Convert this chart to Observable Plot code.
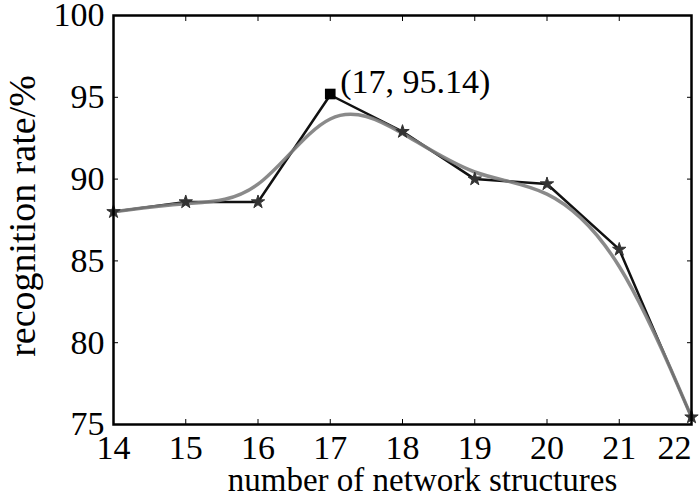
<!DOCTYPE html>
<html><head><meta charset="utf-8">
<script src="https://cdn.jsdelivr.net/npm/d3@7"></script>
<script src="https://cdn.jsdelivr.net/npm/@observablehq/plot@0.6"></script>
<style>html,body{margin:0;padding:0;background:#fff} svg{display:block}</style>
</head><body><div id="chart"></div>
<script>
const structures = [14, 15, 16, 17, 18, 19, 20, 21, 22];
const rates = [88.0, 88.6, 88.6, 95.14, 92.9, 90.0, 89.7, 85.7, 75.45];
const xTicks = [14, 15, 16, 17, 18, 19, 20, 21, 22];
const yTicks = [75, 80, 85, 90, 95, 100];
const peakLabel = "(17, 95.14)";
const xLabel = "number of network structures";
const yLabel = "recognition rate/%";

const data = structures.map((s, i) => ({s, r: rates[i]}));
const peak = data.filter(d => d.s === 17);
const others = data.filter(d => d.s !== 17);
const blank = () => "";

const chart = Plot.plot({
  width: 700, height: 497,
  marginLeft: 113, marginRight: 9, marginTop: 15, marginBottom: 73,
  style: {fontFamily: "'Liberation Serif', 'Times New Roman', serif", fontSize: "34px", color: "#000", background: "#fff"},
  x: {domain: [14, 22]},
  y: {domain: [75, 100]},
  marks: [
    // tick labels
    Plot.axisX({anchor: "bottom", ticks: xTicks.slice(0, -1), tickSize: 0, tickPadding: 10, label: null, tickFormat: d => String(d)}),
    Plot.axisX({anchor: "bottom", ticks: xTicks.slice(-1), tickSize: 0, tickPadding: 10, label: null, tickFormat: d => String(d), dx: -17}),
    Plot.axisY({anchor: "left", ticks: yTicks, tickSize: 0, tickPadding: 9, label: null, tickFormat: d => String(d)}),
    // inward ticks on all four sides
    Plot.axisX({anchor: "bottom", ticks: xTicks, tickSize: -5, tickPadding: 0, label: null, tickFormat: blank, stroke: "#000"}),
    Plot.axisX({anchor: "top", ticks: xTicks, tickSize: -5, tickPadding: 0, label: null, tickFormat: blank, stroke: "#000"}),
    Plot.axisY({anchor: "left", ticks: yTicks, tickSize: -5, tickPadding: 0, label: null, tickFormat: blank, stroke: "#000"}),
    Plot.axisY({anchor: "right", ticks: yTicks, tickSize: -5, tickPadding: 0, label: null, tickFormat: blank, stroke: "#000"}),
    // data lines
    Plot.line(data, {x: "s", y: "r", stroke: "#111", strokeWidth: 2.5}),
    Plot.line(data, {x: "s", y: "r", stroke: "#7d7d7d", strokeWidth: 3.5, curve: "basis", strokeOpacity: 0.9}),
    Plot.dot(others, {x: "s", y: "r", symbol: "star", r: 4.2, fill: "#333", stroke: "#333", strokeWidth: 1}),
    Plot.dot(peak, {x: "s", y: "r", symbol: "square", r: 6, fill: "#000", dy: -1}),
    Plot.text(peak, {x: "s", y: "r", text: () => peakLabel, textAnchor: "start", dx: 10, dy: -13, fontSize: 34}),
    // axis titles
    Plot.text([xLabel], {frameAnchor: "bottom", text: d => d, textAnchor: "middle", lineAnchor: "middle", dx: 20, dy: 56, fontSize: 33}),
    Plot.text([yLabel], {frameAnchor: "left", text: d => d, textAnchor: "middle", rotate: -90, lineAnchor: "middle", dx: -91, dy: -4, fontSize: 38}),
    Plot.frame({stroke: "#000", strokeWidth: 2.5})
  ]
});
document.getElementById("chart").appendChild(chart);
</script>
</body></html>
